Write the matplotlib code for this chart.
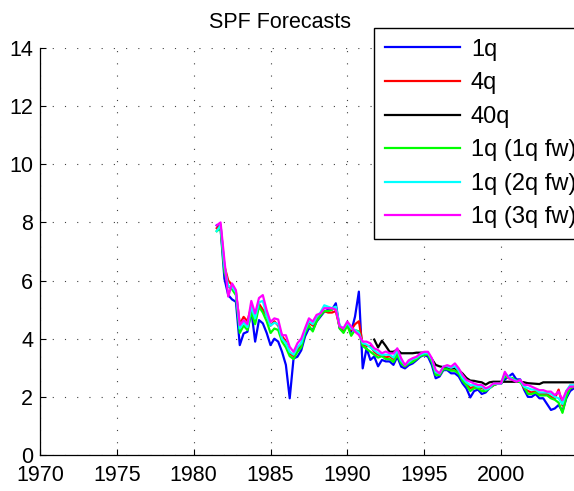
import numpy as np
import matplotlib
matplotlib.use("Agg")
from matplotlib import pyplot as plt

plt.rcParams['font.family'] = ['Liberation Sans', 'DejaVu Sans']

# trimestres 1981Q3 .. 2004Q4
t = np.arange(1981.5, 2004.76, 0.25)
t40 = np.arange(1991.75, 2004.76, 0.25)

q1 = [7.9, 7.8,
      6.07, 5.5, 5.35, 5.27,
      3.78, 4.18, 4.24, 4.98,
      3.9, 4.64, 4.53, 4.2,
      3.78, 4.0, 3.9, 3.55,
      3.1, 1.95, 3.32, 3.38,
      3.6, 4.08, 4.36, 4.3,
      4.59, 4.76, 4.93, 5.0,
      5.0, 5.22, 4.36, 4.24,
      4.53, 4.24, 4.76, 5.62,
      2.98, 3.67, 3.27, 3.39,
      3.05, 3.27, 3.22, 3.22,
      3.1, 3.38, 3.04, 2.98,
      3.09, 3.15, 3.26, 3.38,
      3.44, 3.38, 3.09, 2.64,
      2.7, 2.92, 2.92, 2.81,
      2.81, 2.7, 2.46, 2.29,
      1.98, 2.2, 2.25, 2.1,
      2.15, 2.3, 2.4, 2.45,
      2.45, 2.6, 2.7, 2.8,
      2.6, 2.6, 2.25, 2.0,
      2.0, 2.1, 1.95, 1.95,
      1.75, 1.55, 1.6, 1.72,
      1.5, 1.95, 2.2, 2.3]

q4 = [7.8, 7.9,
      6.5, 6.0, 5.85, 5.6,
      4.5, 4.75, 4.6, 5.1,
      4.7, 5.2, 5.0, 4.8,
      4.45, 4.6, 4.45, 4.1,
      3.9, 3.5, 3.4, 3.6,
      3.8, 4.3, 4.55, 4.45,
      4.7, 4.85, 4.95, 4.9,
      4.9, 4.95, 4.4, 4.3,
      4.5, 4.3, 4.5, 4.6,
      3.8, 3.75, 3.75, 3.55,
      3.45, 3.45, 3.35, 3.4,
      3.3, 3.55, 3.2, 3.05,
      3.2, 3.25, 3.3, 3.45,
      3.5, 3.45, 3.25, 2.8,
      2.75, 3.0, 3.0, 2.95,
      3.0, 2.85, 2.6, 2.45,
      2.3, 2.35, 2.35, 2.3,
      2.25, 2.3, 2.4, 2.45,
      2.45, 2.75, 2.65, 2.6,
      2.55, 2.55, 2.3, 2.2,
      2.15, 2.2, 2.1, 2.1,
      2.1, 2.0, 1.95, 2.25,
      1.7, 2.1, 2.3, 2.35]

q40 = [3.97,
       3.7, 3.93, 3.75, 3.55,
       3.55, 3.63, 3.5, 3.5,
       3.5, 3.5, 3.52, 3.52,
       3.52, 3.45, 3.3, 3.1,
       3.05, 3.02, 3.0, 3.0,
       2.98, 2.92, 2.8, 2.65,
       2.56, 2.55, 2.52, 2.5,
       2.42, 2.5, 2.52, 2.52,
       2.52, 2.52, 2.52, 2.52,
       2.52, 2.52, 2.5, 2.47,
       2.46, 2.45, 2.44, 2.5,
       2.5, 2.5, 2.5, 2.5,
       2.5, 2.5, 2.5, 2.5]

fw1 = [7.7, 7.8,
       6.3, 5.8, 5.7, 5.5,
       4.2, 4.45, 4.3, 4.9,
       4.5, 5.1, 4.9, 4.6,
       4.2, 4.35, 4.3, 3.9,
       3.7, 3.4, 3.3, 3.55,
       3.7, 4.2, 4.45, 4.25,
       4.6, 4.8, 4.95, 4.95,
       5.0, 5.1, 4.35, 4.2,
       4.45, 4.1, 4.3, 4.25,
       3.75, 3.65, 3.55, 3.45,
       3.35, 3.4, 3.3, 3.3,
       3.2, 3.45, 3.15, 3.05,
       3.15, 3.2, 3.3, 3.4,
       3.45, 3.45, 3.2, 2.75,
       2.75, 2.95, 2.95, 2.9,
       2.9, 2.8, 2.55, 2.4,
       2.2, 2.3, 2.3, 2.2,
       2.2, 2.3, 2.4, 2.45,
       2.45, 2.7, 2.65, 2.65,
       2.55, 2.5, 2.35, 2.1,
       2.1, 2.15, 2.05, 2.05,
       2.05, 1.95, 1.9, 1.8,
       1.45, 2.0, 2.3, 2.35]

fw2 = [7.7, 7.9,
       6.5, 5.8, 5.8, 5.6,
       4.35, 4.55, 4.4, 5.1,
       4.7, 5.25, 5.3, 4.8,
       4.45, 4.55, 4.5, 4.0,
       3.85, 3.55, 3.45, 3.7,
       3.85, 4.3, 4.6, 4.5,
       4.75, 4.9, 5.15, 5.1,
       5.05, 5.1, 4.45, 4.35,
       4.55, 4.35, 4.3, 4.2,
       3.85, 3.8, 3.7, 3.6,
       3.5, 3.45, 3.45, 3.45,
       3.35, 3.6, 3.25, 3.1,
       3.2, 3.3, 3.35, 3.45,
       3.5, 3.5, 3.3, 2.85,
       2.8, 3.05, 3.05, 3.0,
       3.05, 2.9, 2.65, 2.5,
       2.4, 2.4, 2.35, 2.35,
       2.25, 2.3, 2.45, 2.45,
       2.45, 2.8, 2.7, 2.6,
       2.55, 2.55, 2.35, 2.3,
       2.25, 2.25, 2.15, 2.15,
       2.15, 2.1, 2.0, 1.95,
       1.75, 2.2, 2.4, 2.4]

fw3 = [7.9, 8.0,
       6.7, 5.45, 5.9, 5.67,
       4.47, 4.64, 4.5, 5.3,
       4.87, 5.4, 5.5, 4.98,
       4.58, 4.7, 4.66, 4.12,
       4.12, 3.72, 3.55, 3.84,
       4.0, 4.36, 4.7, 4.59,
       4.82, 4.87, 5.05, 5.05,
       5.05, 5.0, 4.42, 4.36,
       4.59, 4.42, 4.24, 4.13,
       3.9, 3.9, 3.84, 3.67,
       3.61, 3.5, 3.56, 3.5,
       3.49, 3.67, 3.33, 3.09,
       3.26, 3.33, 3.38, 3.49,
       3.55, 3.55, 3.33, 2.92,
       2.81, 3.04, 3.09, 3.04,
       3.15, 2.98, 2.75, 2.58,
       2.52, 2.46, 2.41, 2.41,
       2.29, 2.35, 2.46, 2.46,
       2.46, 2.86, 2.64, 2.58,
       2.52, 2.58, 2.41, 2.41,
       2.35, 2.29, 2.23, 2.23,
       2.18, 2.18, 2.06, 2.18,
       1.89, 2.2, 2.35, 2.35]

etiquetas = ['1q', '4q', '40q', '1q (1q fw)', '1q (2q fw)', '1q (3q fw)']
# colores tipo matlab (puros)
colores = ['#0000ff', '#ff0000', '#000000', '#00ff00', '#00ffff', '#ff00ff']

fig = plt.figure(figsize=(5.74, 4.91), dpi=100)
ax = fig.add_axes([40/574, 36/491, 534/574, 407/491])

series = [(t, q1), (t, q4), (t40, q40), (t, fw1), (t, fw2), (t, fw3)]
for (xx, yy), lab, col in zip(series, etiquetas, colores):
    ax.plot(xx, yy, color=col, lw=1.6, label=lab)

ax.set_xlim(1970, 2004.75)
ax.set_ylim(0, 14)
ax.set_xticks(range(1970, 2001, 5))
ax.set_yticks(range(0, 15, 2))
ax.grid(True, color='0.25', linestyle=(0, (1, 10)), lw=0.8)
ax.tick_params(direction='in', length=4, width=0.8, labelsize=15.5)
ax.tick_params(axis='y', pad=5)
ax.tick_params(axis='x', pad=7)
for s in ['top', 'right']:
    ax.spines[s].set_visible(False)
for s in ['left', 'bottom']:
    ax.spines[s].set_linewidth(0.9)

fig.text(280/574, 1 - 28/491, 'SPF Forecasts', ha='center', va='baseline', fontsize=15.5)

leg = ax.legend(loc='upper left', bbox_to_anchor=(374/574, 1 - 28/491),
                bbox_transform=fig.transFigure, fontsize=17, frameon=True,
                fancybox=False, framealpha=1, edgecolor='k',
                handlelength=3.2, handletextpad=0.45, borderpad=0.45,
                labelspacing=0.49, borderaxespad=0)
leg.get_frame().set_linewidth(1.0)

fig.savefig('out.png', dpi=100)
